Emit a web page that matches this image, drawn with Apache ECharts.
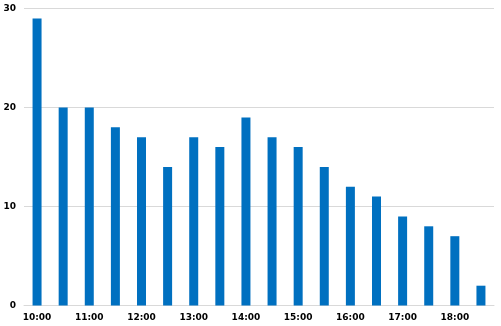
<!DOCTYPE html>
<html>
<head>
<meta charset="utf-8">
<script src="https://cdn.jsdelivr.net/npm/echarts@6/dist/echarts.min.js"></script>
<style>
html,body{margin:0;padding:0;background:#fff;}
#chart{width:501px;height:326px;}
</style>
</head>
<body>
<div id="chart"></div>
<script>
var categories = ["10:00","10:30","11:00","11:30","12:00","12:30","13:00","13:30","14:00","14:30","15:00","15:30","16:00","16:30","17:00","17:30","18:00","18:30"];
var values = [29,20,20,18,17,14,17,16,19,17,16,14,12,11,9,8,7,2];
var yTicks = [0,10,20,30];

var chart = echarts.init(document.getElementById('chart'), null, {renderer:'canvas'});
chart.setOption({
  animation:false,
  grid:{left:24,right:7,top:8.5,bottom:20.5,containLabel:false},
  xAxis:{
    type:'category',
    data:categories,
    axisLine:{lineStyle:{color:'#d9d9d9',width:1}},
    axisTick:{show:false},
    axisLabel:{interval:1,margin:8,color:'#000',fontFamily:'DejaVu Sans',fontWeight:'bold',fontSize:9}
  },
  yAxis:{
    type:'value',
    min:yTicks[0],max:yTicks[yTicks.length-1],interval:10,
    axisLine:{show:false},
    axisTick:{show:false},
    splitLine:{lineStyle:{color:'#d9d9d9',width:1}},
    axisLabel:{margin:8,color:'#000',fontFamily:'DejaVu Sans',fontWeight:'bold',fontSize:9}
  },
  series:[{
    type:'bar',
    data:values,
    barWidth:9,
    itemStyle:{color:'#0070C0'}
  }]
});
</script>
</body>
</html>
